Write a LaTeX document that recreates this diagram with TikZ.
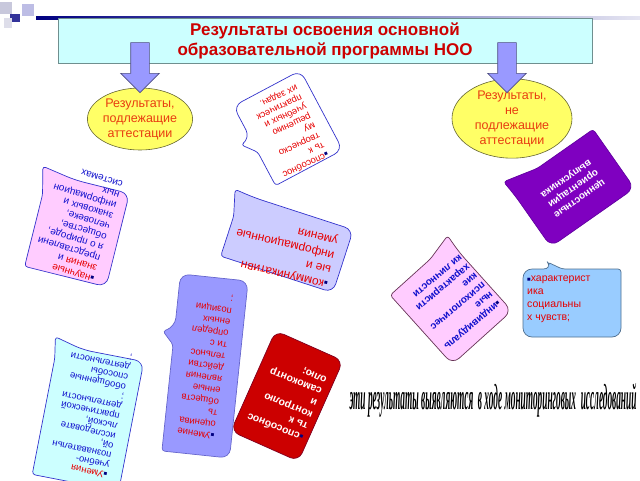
\documentclass[tikz,border=0pt]{standalone}
\usepackage{fontspec}
\setmainfont{Liberation Sans}
\newfontfamily\notefont{Liberation Serif}
\usetikzlibrary{shapes.geometric,shapes.arrows,calc}

\definecolor{titlefill}{HTML}{CCFFFF}
\definecolor{titleline}{HTML}{6F8F8F}
\definecolor{titletext}{HTML}{CC0000}
\definecolor{arrowfill}{HTML}{9999FF}
\definecolor{arrowline}{HTML}{4D4D80}
\definecolor{ovalfill}{HTML}{FFFF66}
\definecolor{ovalline}{HTML}{666633}
\definecolor{ovaltext}{HTML}{E83C10}
\definecolor{pinkfill}{HTML}{FFCCFF}
\definecolor{blueline}{HTML}{3333CC}
\definecolor{bluetext}{HTML}{1010CC}
\definecolor{redtext}{HTML}{E60000}
\definecolor{lavfill}{HTML}{CCCCFF}
\definecolor{cyanfill}{HTML}{CCFFFF}
\definecolor{tallfill}{HTML}{9999FF}
\definecolor{tallline}{HTML}{6666CC}
\definecolor{redfill}{HTML}{CC0000}
\definecolor{redline}{HTML}{800020}
\definecolor{pinkline}{HTML}{663355}
\definecolor{skyfill}{HTML}{99CCFF}
\definecolor{skyline}{HTML}{4F6F8F}
\definecolor{violetfill}{HTML}{7F00C0}
\definecolor{violetline}{HTML}{6000A0}
\definecolor{navy}{HTML}{000080}
\definecolor{decogray}{HTML}{C8C8DC}

\newcommand{\blt}{\textcolor{navy}{\fontsize{6}{6}\selectfont■}}
% box outline with a tab at one corner: node, style, c1, corner, c3, c4, tip shift, dist a, dist b
\newcommand{\cornertab}[9]{%
  \path[#2] ($(#1.#6)!0.5!(#1.#3)$) -- (#1.#3) -- ($(#1.#4)!#8!(#1.#3)$)
    [rounded corners=3pt] -- ($(#1.#4)+#7$) -- ($(#1.#4)!#9!(#1.#5)$) -- (#1.#5)
    [rounded corners=9pt] -- (#1.#6) -- cycle;}
% box outline with a tab on one edge: node, style, c1, c2, c3, c4, t a, t b, tip shift
\newcommand{\edgetab}[9]{%
  \path[#2] ($(#1.#6)!0.5!(#1.#3)$) -- (#1.#3) -- (#1.#4) -- ($(#1.#4)!#7!(#1.#5)$)
    [rounded corners=3pt] -- ($($(#1.#4)!#7!(#1.#5)$)+#9$) -- ($(#1.#4)!#8!(#1.#5)$) -- (#1.#5)
    [rounded corners=9pt] -- (#1.#6) -- cycle;}

\begin{document}
\begin{tikzpicture}[x=1pt,y=-1pt,
  titlebox/.style={rectangle, draw=titleline, fill=titlefill, line width=0.8pt,
    minimum width=534pt, minimum height=45pt, align=center, text=titletext,
    font=\bfseries\fontsize{17}{20}\selectfont},
  downarrow/.style={single arrow, draw=arrowline, fill=arrowfill, line width=0.6pt,
    rotate=-90, minimum height=50pt, inner xsep=0pt, inner ysep=9pt,
    single arrow head extend=10pt},
  oval/.style={ellipse, draw=ovalline, fill=ovalfill, line width=0.6pt,
    align=center, text=ovaltext, inner sep=0pt, font=\fontsize{12.5}{15}\selectfont},
  frame/.style={rectangle, inner sep=0pt, outer sep=0pt},
  outline/.style={line width=0.7pt, rounded corners=9pt, line join=round},
  txt/.style={align=left, inner sep=0pt, font=\fontsize{10}{11.5}\selectfont}]
  \useasboundingbox (0,0) rectangle (640,480);
  % corner decoration
  \fill[decogray] (0,2) rectangle (12,14);
  \fill[navy!80] (10,14) rectangle (20,22);
  \fill[lavfill!80!gray] (22,4) rectangle (34,16);
  \fill[decogray!60] (4,18) rectangle (12,28);
  \shade[left color=navy, right color=navy!10] (36,16) rectangle (640,19);
  % heading
  \node[titlebox] (title) at (325,40.5) {Результаты освоения основной\\образовательной программы НОО};
  % values (behind the right oval)
  \node[frame, rotate=215, minimum width=102pt, minimum height=72pt] (values) at (572,188) {};
  \cornertab{values}{outline, fill=violetfill, draw=violetline}{north east}{south east}{south west}{north west}{(-6,-6)}{10pt}{34pt}
  \node[txt, rotate=215, text=white, font=\bfseries\fontsize{10}{12}\selectfont] (values-t) at (572,188)
    {ценностные\\ориентации\\выпускника};
  % ovals and arrows
  \node[oval, minimum width=104pt, minimum height=62pt] (assessed) at (140,119) {Результаты,\\подлежащие\\аттестации};
  \node[oval, minimum width=120pt, minimum height=67pt] (notassessed) at (512,118.5) {Результаты,\\не\\подлежащие\\аттестации};
  \node[downarrow] (arrL) at (140,63) {};
  \node[downarrow] (arrR) at (507,63) {};
  % knowledge
  \node[frame, rotate=166, minimum width=84pt, minimum height=96pt] (knowledge) at (77,230) {};
  \cornertab{knowledge}{outline, fill=pinkfill, draw=blueline}{south west}{south east}{north east}{north west}{(-5,-7)}{28pt}{22pt}
  \node[txt, rotate=163, text=bluetext, font=\fontsize{10}{11}\selectfont] (knowledge-t) at (77,222)
    {\blt\textcolor{redtext}{научные}\\\textcolor{redtext}{знания} и\\представлени\\я о природе,\\обществе,\\человеке,\\знаковых и\\информацион\\ных\\системах};
  % creative
  \node[frame, rotate=208, minimum width=76pt, minimum height=90pt] (creative) at (288,128) {};
  \edgetab{creative}{outline, fill=white, draw=blueline}{south west}{south east}{north east}{north west}{0.4}{0.58}{(-9,7)}
  \node[txt, rotate=205, text=redtext, font=\fontsize{9.5}{10.5}\selectfont] (creative-t) at (290,131)
    {\blt способнос\\ть к\\творческо\\му\\решению\\учебных и\\практическ\\их задач.};
  % communic
  \node[frame, rotate=162, minimum width=118pt, minimum height=66pt] (communic) at (287,243) {};
  \cornertab{communic}{outline, fill=lavfill, draw=blueline}{south west}{south east}{north east}{north west}{(-6,-4)}{14pt}{24pt}
  \node[txt, rotate=167, text=redtext, font=\fontsize{12}{15}\selectfont] (communic-t) at (284,250)
    {\blt коммуникативн\\ые и\\информационные\\умения};
  % activity
  \node[frame, rotate=169, minimum width=88pt, minimum height=132pt] (activity) at (88,418) {};
  \cornertab{activity}{outline, fill=cyanfill, draw=blueline}{south west}{south east}{north east}{north west}{(-2,-8)}{26pt}{14pt}
  \node[txt, rotate=168, text=bluetext, font=\fontsize{9.5}{10}\selectfont] (activity-t) at (90,410)
    {\blt\textcolor{redtext}{Умения}\\учебно-\\познавательн\\ой,\\исследовате\\льской,\\практической\\деятельности\\;\\обобщенные\\способы\\деятельности\\;};
  % evaluate
  \node[frame, rotate=174, minimum width=68pt, minimum height=178pt] (evaluate) at (205,366) {};
  \edgetab{evaluate}{outline, fill=tallfill, draw=tallline}{south west}{south east}{north east}{north west}{0.3}{0.4}{(-12,4)}
  \node[txt, rotate=172, text=redtext, font=\fontsize{9.5}{11.5}\selectfont] (evaluate-t) at (205,365)
    {\blt Умение\\оценива\\ть\\обществ\\енные\\явления\\действи\\тельнос\\ти с\\определ\\енных\\позиции\\;};
  % control
  \node[frame, rotate=156, minimum width=74pt, minimum height=110pt, outline, draw=redline, fill=redfill] (control) at (287,396) {};
  \node[txt, rotate=158, text=white, font=\bfseries\fontsize{10.5}{12.5}\selectfont] (control-t) at (287,398)
    {\blt способнос\\ть к\\контролю\\и\\самоконтр\\олю;};
  % personal
  \node[frame, rotate=222, minimum width=80pt, minimum height=93pt] (personal) at (451,303) {};
  \cornertab{personal}{outline, fill=pinkfill, draw=pinkline}{north west}{south west}{south east}{north east}{(-2,-6)}{14pt}{26pt}
  \node[txt, rotate=220, text=bluetext, font=\bfseries\fontsize{10}{12}\selectfont] (personal-t) at (453,302)
    {\blt индивидуаль\\ные\\психологичес\\кие\\характеристи\\ки личности};
  % social
  \node[frame, minimum width=98pt, minimum height=68pt] (social) at (572,303) {};
  \edgetab{social}{outline, fill=skyfill, draw=skyline}{south west}{north west}{north east}{south east}{0.3}{0.4}{(-5,-7)}
  \node[txt, anchor=north west, text=redtext, font=\fontsize{10.5}{13}\selectfont] (social-t) at (527,276)
    {\blt характерист\\ика\\социальны\\х чувств;};
  % note
  \node[inner sep=0pt] (note) at (493,400)
    {\resizebox*{287pt}{34pt}{\notefont\bfseries\itshape эти результаты выявляются\ \ в ходе мониторинговых\ \ исследований}};
\end{tikzpicture}
\end{document}
